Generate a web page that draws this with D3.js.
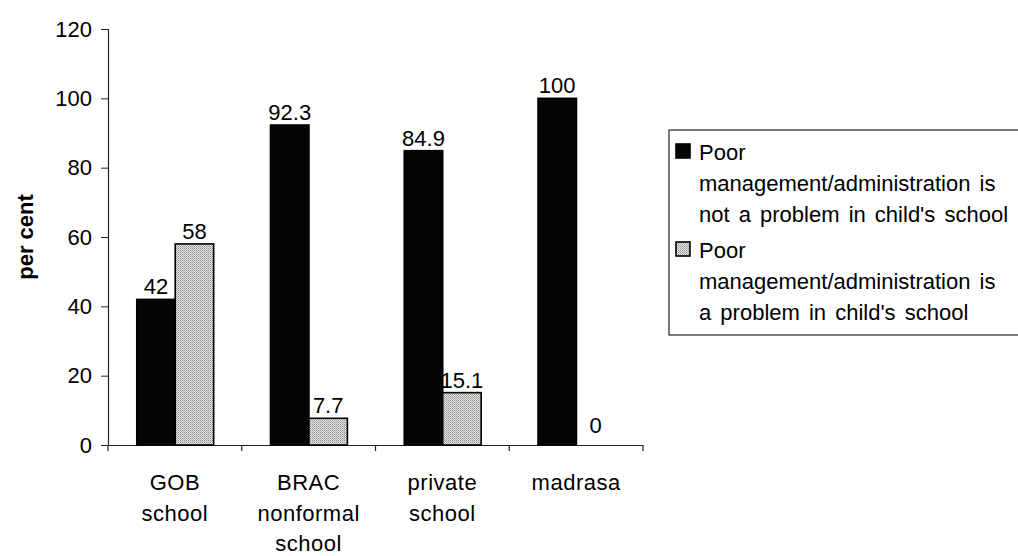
<!DOCTYPE html>
<html>
<head>
<meta charset="utf-8">
<script src="https://cdn.jsdelivr.net/npm/d3@7"></script>
<style>
  html, body { margin: 0; padding: 0; background: #fff; overflow: hidden; }
  svg { display: block; font-family: "Liberation Sans", Arial, Helvetica, sans-serif; }
</style>
</head>
<body>
<svg id="chart" width="1018" height="556"></svg>
<script>
const categories = [["GOB", "school"], ["BRAC", "nonformal", "school"], ["private", "school"], ["madrasa"]];
const categoryKeys = ["GOB school", "BRAC nonformal school", "private school", "madrasa"];
const seriesNames = [
  ["Poor", "management/administration is", "not a problem in child's school"],
  ["Poor", "management/administration is", "a problem in child's school"]
];
const notProblem = [42, 92.3, 84.9, 100];
const isProblem = [58, 7.7, 15.1, 0];
const yTicks = [0, 20, 40, 60, 80, 100, 120];

const svg = d3.select("#chart");
const defs = svg.append("defs");
const pat = defs.append("pattern").attr("id", "stipple").attr("patternUnits", "userSpaceOnUse")
  .attr("width", 2).attr("height", 2);
pat.append("rect").attr("width", 2).attr("height", 2).attr("fill", "#e6e6e6");
pat.append("rect").attr("width", 1).attr("height", 1).attr("fill", "#8f8f8f");
pat.append("rect").attr("x", 1).attr("y", 1).attr("width", 1).attr("height", 1).attr("fill", "#b0b0b0");

const x0 = 108, x1End = 643, yTop = 29, yBot = 445;
const x = d3.scaleBand().domain(categoryKeys).range([x0, x1End]).padding(0);
const y = d3.scaleLinear().domain([0, 120]).range([yBot, yTop]);
const bw = x.bandwidth();
const xs = d3.scaleBand().domain([0, 1]).range([bw * 0.215, bw * 0.79]).padding(0);

const fs = 22;
const fills = ["#050505", "url(#stipple)"];
const seriesData = [notProblem, isProblem];

// axes
const yAxis = d3.axisLeft(y).tickValues(yTicks).tickSize(7).tickPadding(9).tickFormat(d3.format("d"));
const gy = svg.append("g").attr("transform", `translate(${x0},0)`).call(yAxis);
gy.select(".domain").attr("stroke", "#222").attr("stroke-width", 1.2);
gy.selectAll(".tick line").attr("stroke", "#222");
gy.selectAll(".tick text").attr("font-size", fs).attr("fill", "#000")
  .attr("font-family", "'Liberation Sans', Arial, sans-serif");

const xAxis = d3.axisBottom(x).tickSize(0).tickFormat("");
const gx = svg.append("g").attr("transform", `translate(0,${yBot})`).call(xAxis);
gx.select(".domain").attr("stroke", "#222").attr("stroke-width", 1.2);
// category boundary ticks
const bounds = categoryKeys.map(k => x(k)).concat([x1End]);
svg.append("g").selectAll("line").data(bounds).join("line")
  .attr("x1", d => d).attr("x2", d => d).attr("y1", yBot).attr("y2", yBot + 6)
  .attr("stroke", "#222").attr("stroke-width", 1.2);

// bars
seriesData.forEach((vals, si) => {
  svg.append("g").selectAll("rect").data(vals).join("rect")
    .attr("x", (d, i) => x(categoryKeys[i]) + xs(si))
    .attr("y", d => y(d))
    .attr("width", xs.bandwidth())
    .attr("height", d => y(0) - y(d))
    .attr("fill", fills[si])
    .attr("stroke", d => d === 0 ? "none" : "#000")
    .attr("stroke-width", 1.6);
  svg.append("g").selectAll("text").data(vals).join("text")
    .attr("x", (d, i) => x(categoryKeys[i]) + xs(si) + xs.bandwidth() / 2)
    .attr("y", d => y(d) - (d === 0 ? 12 : 5))
    .attr("text-anchor", "middle")
    .attr("font-size", fs)
    .attr("fill", "#000")
    .text(d => d3.format("")(d));
});

// category labels
categories.forEach((lines, i) => {
  const t = svg.append("text").attr("text-anchor", "middle").attr("font-size", fs)
    .attr("letter-spacing", 0.5).attr("fill", "#000");
  lines.forEach((ln, j) => {
    t.append("tspan").attr("x", x(categoryKeys[i]) + bw / 2).attr("y", 490 + j * 30.5).text(ln);
  });
});

// y title
svg.append("text").attr("transform", "translate(33,237) rotate(-90)")
  .attr("text-anchor", "middle").attr("font-size", fs).attr("font-weight", "bold").attr("fill", "#000")
  .text("per cent");

// legend
const lg = svg.append("g");
lg.append("rect").attr("x", 669).attr("y", 130).attr("width", 400).attr("height", 205)
  .attr("fill", "#fff").attr("stroke", "#222").attr("stroke-width", 1.2);
const legendTop = [160, 258];
seriesNames.forEach((lines, si) => {
  lg.append("rect").attr("x", 676).attr("y", legendTop[si] - 16).attr("width", 14).attr("height", 14)
    .attr("fill", fills[si]).attr("stroke", "#000").attr("stroke-width", 1.6);
  const t = lg.append("text").attr("font-size", fs).attr("word-spacing", 3).attr("fill", "#000");
  lines.forEach((ln, j) => {
    t.append("tspan").attr("x", 699).attr("y", legendTop[si] + j * 31).text(ln);
  });
});
</script>
</body>
</html>
